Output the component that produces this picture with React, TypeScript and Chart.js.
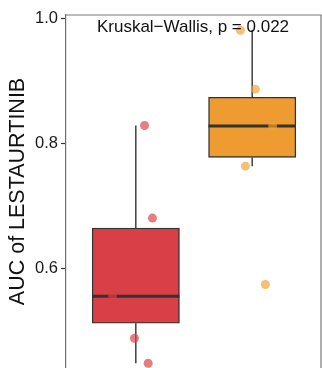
import React, { useEffect, useRef } from 'react';
import { Chart, registerables } from 'chart.js';

Chart.register(...registerables);

// ---- data ----
const groups = ['Group 1', 'Group 2'];
const groupPositions = [1, 2];
const boxQ1 = [0.513, 0.778];
const boxMedian = [0.556, 0.828];
const boxQ3 = [0.665, 0.874];
const whiskerLow = [0.449, 0.764];
const whiskerHigh = [0.829, 0.982];
const group1Values = [0.829, 0.681, 0.556, 0.489, 0.449];
const group1Jitter = [0.075, 0.143, -0.2, -0.012, 0.106];
const group2Values = [0.981, 0.887, 0.828, 0.764, 0.575];
const group2Jitter = [-0.101, 0.027, 0.176, -0.058, 0.113];
const yTicks = [0.6, 0.8, 1.0];
const yAxisTitle = 'AUC of LESTAURTINIB';
const testLabel = 'Kruskal\u2212Wallis, p = 0.022';

const boxFill = ['#D93F46', '#EE9B31'];
const pointFill = ['rgba(217,63,70,0.68)', 'rgba(240,160,50,0.68)'];
const FONT = "'Liberation Sans', Arial, Helvetica, sans-serif";

const boxPlugin = {
  id: 'boxExtras',
  afterDatasetDraw(chart: any, args: any) {
    if (args.index !== 0) return;
    const { ctx } = chart;
    const y = chart.scales.y;
    const meta = chart.getDatasetMeta(0);
    ctx.save();
    ctx.strokeStyle = '#333333';
    meta.data.forEach((bar: any, i: number) => {
      const half = bar.width / 2;
      const cx = bar.x;
      ctx.lineWidth = 1.4;
      ctx.beginPath();
      ctx.moveTo(cx, y.getPixelForValue(boxQ3[i]));
      ctx.lineTo(cx, y.getPixelForValue(whiskerHigh[i]));
      ctx.moveTo(cx, y.getPixelForValue(boxQ1[i]));
      ctx.lineTo(cx, y.getPixelForValue(whiskerLow[i]));
      ctx.stroke();
      const my = y.getPixelForValue(boxMedian[i]);
      ctx.lineWidth = 3;
      ctx.beginPath();
      ctx.moveTo(cx - half, my);
      ctx.lineTo(cx + half, my);
      ctx.stroke();
    });
    ctx.restore();
  },
  afterDatasetsDraw(chart: any) {
    const { ctx, chartArea } = chart;
    ctx.save();
    ctx.strokeStyle = '#7a7a7a';
    ctx.lineWidth = 1.2;
    ctx.beginPath();
    ctx.moveTo(chartArea.left, chartArea.top);
    ctx.lineTo(chartArea.right - 1, chartArea.top);
    ctx.lineTo(chartArea.right - 1, chartArea.bottom);
    ctx.stroke();
    ctx.fillStyle = '#111111';
    ctx.font = `17px ${FONT}`;
    ctx.textAlign = 'center';
    ctx.textBaseline = 'middle';
    ctx.fillText(testLabel, (chartArea.left + chartArea.right) / 2 - 1, chartArea.top + 12);
    ctx.restore();
  },
};

export default function App() {
  const ref = useRef<HTMLCanvasElement>(null);
  useEffect(() => {
    document.body.style.margin = '0';
    const canvas = ref.current!;
    const chart = new Chart(canvas, {
      type: 'bar',
      data: {
        labels: groups,
        datasets: [
          {
            type: 'bar',
            data: groupPositions.map((p, i) => ({ x: p, y: [boxQ1[i], boxQ3[i]] })) as any,
            backgroundColor: boxFill,
            borderColor: '#333333',
            borderWidth: 1.4,
            borderSkipped: false,
            barThickness: 'flex',
            barPercentage: 0.75,
            categoryPercentage: 1,
            order: 3,
          } as any,
          {
            type: 'scatter',
            data: group1Values.map((v, i) => ({ x: groupPositions[0] + group1Jitter[i], y: v })),
            backgroundColor: pointFill[0],
            borderWidth: 0,
            pointRadius: 4.5,
            order: 1,
          } as any,
          {
            type: 'scatter',
            data: group2Values.map((v, i) => ({ x: groupPositions[1] + group2Jitter[i], y: v })),
            backgroundColor: pointFill[1],
            borderWidth: 0,
            pointRadius: 4.5,
            order: 1,
          } as any,
        ],
      },
      options: {
        animation: false,
        responsive: false,
        devicePixelRatio: 1,
        layout: { autoPadding: false, padding: { top: 15, right: 0, bottom: 0, left: 0 } },
        plugins: { legend: { display: false }, tooltip: { enabled: false } },
        scales: {
          x: {
            type: 'linear',
            min: 0.4,
            max: 2.6,
            offset: false,
            display: false,
            grid: { offset: false },
            afterBuildTicks: (s: any) => {
              s.ticks = groupPositions.map((v) => ({ value: v }));
            },
          },
          y: {
            type: 'linear',
            min: 0.4415,
            max: 1.0055,
            afterBuildTicks: (s: any) => {
              s.ticks = yTicks.map((v) => ({ value: v }));
            },
            afterFit: (s: any) => {
              s.width = 66;
              s.paddingTop = 0;
              s.paddingBottom = 0;
            },
            ticks: {
              font: { family: FONT, size: 16.5 },
              color: '#1a1a1a',
              padding: 3,
              callback: (v: any) => Number(v).toFixed(1),
            },
            grid: { drawOnChartArea: false, tickLength: 5, tickColor: '#333333', tickWidth: 1.2 },
            border: { display: true, color: '#6e6e6e', width: 1.2 },
            title: {
              display: true,
              text: yAxisTitle,
              font: { family: FONT, size: 21.5 },
              color: '#111111',
              padding: { top: 5, bottom: 0 },
            },
          },
        },
      } as any,
      plugins: [boxPlugin],
    });
    return () => chart.destroy();
  }, []);
  return (
    <div style={{ width: 322, height: 368 }}>
      <canvas ref={ref} width={322} height={368} style={{ display: 'block' }} />
    </div>
  );
}
